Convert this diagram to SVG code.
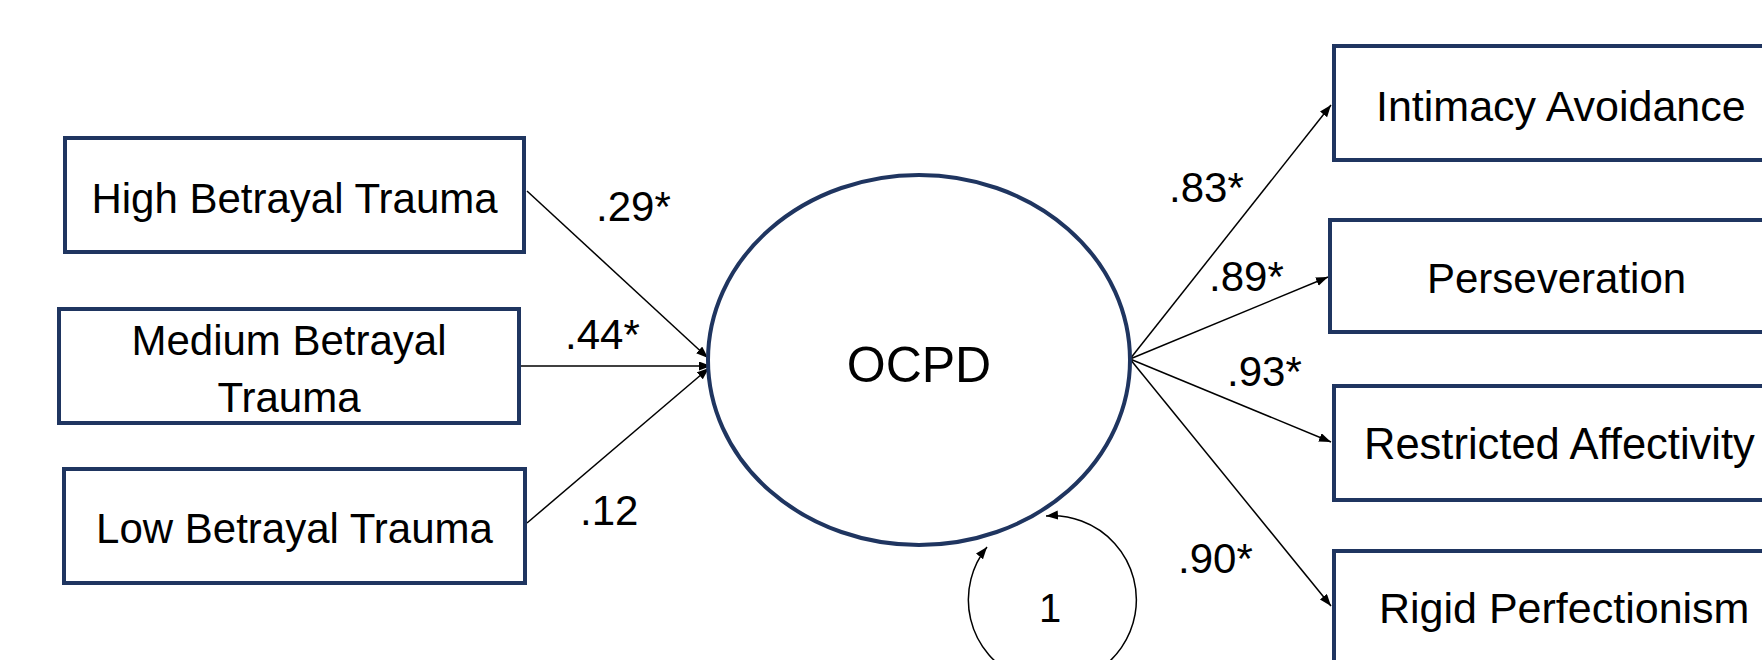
<svg xmlns="http://www.w3.org/2000/svg" width="1762" height="660" viewBox="0 0 1762 660">
<style>
.box{fill:#fff;stroke:#1f3560;stroke-width:4}
.lat{fill:#fff;stroke:#1f3560;stroke-width:4}
.t{font-family:"Liberation Sans",Arial,sans-serif;font-size:42px;fill:#000}
.c{text-anchor:middle}
.lbl{font-family:"Liberation Sans",Arial,sans-serif;font-size:42px;fill:#000}
.e{fill:none;stroke:#000;stroke-width:1.5}
</style>
<defs>
<marker id="ah" markerUnits="userSpaceOnUse" markerWidth="13" markerHeight="10" refX="12" refY="4.5" orient="auto-start-reverse">
<path d="M0,0 L12,4.5 L0,9 z" fill="#000"/>
</marker>
</defs>
<rect width="1762" height="660" fill="#fff"/>
<g id="connectors">
<line class="e" x1="527" y1="191" x2="708" y2="358" marker-end="url(#ah)"/>
<line class="e" x1="521" y1="366" x2="711" y2="366" marker-end="url(#ah)"/>
<line class="e" x1="527" y1="523" x2="709" y2="368" marker-end="url(#ah)"/>
<line class="e" x1="1130" y1="359" x2="1331" y2="105" marker-end="url(#ah)"/>
<line class="e" x1="1130" y1="359" x2="1328" y2="277" marker-end="url(#ah)"/>
<line class="e" x1="1130" y1="359" x2="1331" y2="442" marker-end="url(#ah)"/>
<line class="e" x1="1130" y1="359" x2="1331" y2="606" marker-end="url(#ah)"/>
<path class="e" d="M987,547 A84,84 0 1 0 1046,516" marker-start="url(#ah)" marker-end="url(#ah)"/>
</g>
<g id="labels">
<text class="lbl" x="596" y="221">.29*</text>
<text class="lbl" x="565" y="349">.44*</text>
<text class="lbl" x="580" y="525">.12</text>
<text class="lbl" x="1169" y="202">.83*</text>
<text class="lbl" x="1209" y="291">.89*</text>
<text class="lbl" x="1227" y="386">.93*</text>
<text class="lbl" x="1178" y="573">.90*</text>
<text class="lbl c" x="1050" y="622" style="font-size:40px">1</text>
</g>
<g id="high">
<rect class="box" x="65" y="138" width="459" height="114"/>
<text class="t c" x="294.5" y="213">High Betrayal Trauma</text>
</g>
<g id="medium">
<rect class="box" x="59" y="309" width="460" height="114"/>
<text class="t c" x="289" y="355">Medium Betrayal</text>
<text class="t c" x="289" y="412">Trauma</text>
</g>
<g id="low">
<rect class="box" x="64" y="469" width="461" height="114"/>
<text class="t c" x="294.5" y="543">Low Betrayal Trauma</text>
</g>
<g id="ocpd">
<ellipse class="lat" cx="919" cy="360" rx="211" ry="185"/>
<text class="t c" x="919" y="382" style="font-size:50px">OCPD</text>
</g>
<g id="intimacy">
<rect class="box" x="1334" y="46" width="500" height="114"/>
<text class="t" x="1376" y="121" style="font-size:43px">Intimacy Avoidance</text>
</g>
<g id="perseveration">
<rect class="box" x="1330" y="220" width="500" height="112"/>
<text class="t" x="1427" y="293">Perseveration</text>
</g>
<g id="restricted">
<rect class="box" x="1334" y="386" width="500" height="114"/>
<text class="t" x="1364" y="459" style="font-size:43.5px">Restricted Affectivity</text>
</g>
<g id="rigid">
<rect class="box" x="1334" y="551" width="500" height="114"/>
<text class="t" x="1379" y="623" style="font-size:43px">Rigid Perfectionism</text>
</g>
</svg>
